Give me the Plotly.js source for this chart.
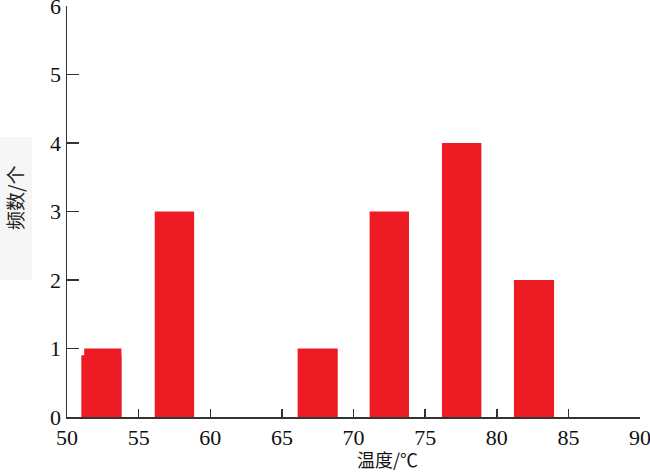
<!DOCTYPE html>
<html><head><meta charset="utf-8">
<script src="https://cdn.plot.ly/plotly-3.0.1.min.js"></script>
<style>html,body{margin:0;padding:0;background:#fff}</style>
</head><body><div id="chart" style="width:650px;height:472px"></div>
<script>
// Data
const binCenters = [52.5, 57.5, 67.5, 72.5, 77.55, 82.6];
const counts = [1, 3, 1, 3, 4, 2];
const binWidths = [2.6, 2.75, 2.8, 2.75, 2.75, 2.8];
const firstBinStepCenter = [52.4];
const firstBinStepValue = [0.9];
const xTickVals = [50, 55, 60, 65, 70, 75, 80, 85, 90];
const yTickVals = [0, 1, 2, 3, 4, 5, 6];
const xTitle = '温度/℃';
const yTitle = '频数/个';

const red = '#ed1c24';
const font = 'Liberation Serif, Times New Roman, Noto Sans CJK SC, serif';

const traces = [
  {type: 'bar', x: firstBinStepCenter, y: firstBinStepValue, width: 2.8,
   marker: {color: red, line: {width: 0}}, hoverinfo: 'skip'},
  {type: 'bar', x: binCenters, y: counts, width: binWidths,
   marker: {color: red, line: {width: 0}}}
];

const layout = {
  width: 650, height: 472,
  margin: {l: 67, r: 10, t: 6, b: 55},
  paper_bgcolor: '#fff', plot_bgcolor: '#fff',
  showlegend: false,
  barmode: 'overlay',
  font: {family: font, size: 21, color: '#111'},
  xaxis: {
    range: [50, 90], tickvals: xTickVals, ticktext: xTickVals.map(String),
    showgrid: false, zeroline: false, showline: true, linecolor: '#333', linewidth: 1.5,
    ticks: 'inside', ticklen: 8, tickwidth: 1.5, tickcolor: '#333',
    ticklabeloverflow: 'allow',
    tickfont: {family: font, size: 22, color: '#111'}
  },
  yaxis: {
    range: [0, 6], tickvals: yTickVals,
    showgrid: false, zeroline: false, showline: true, linecolor: '#333', linewidth: 1.5,
    ticks: 'inside', ticklen: 12, tickwidth: 1.5, tickcolor: '#333',
    ticklabeloverflow: 'allow',
    tickfont: {family: font, size: 22, color: '#111'}
  },
  shapes: [
    {type: 'rect', xref: 'paper', yref: 'paper', x0: -0.117, x1: -0.061, y0: 0.333, y1: 0.681,
     fillcolor: '#f6f6f6', line: {width: 0}, layer: 'below'}
  ],
  annotations: [
    {text: xTitle, xref: 'paper', yref: 'paper', x: 0.56, y: -0.102, yanchor: 'middle', xanchor: 'center',
     showarrow: false, font: {family: 'Noto Sans CJK SC, Liberation Serif, serif', size: 18, color: '#111'}},
    {text: yTitle, xref: 'paper', yref: 'paper', x: -0.0907, y: 0.533, xanchor: 'center', yanchor: 'middle',
     textangle: -90, showarrow: false,
     font: {family: 'Noto Sans CJK SC, serif', size: 19, color: '#222'}}
  ]
};

Plotly.newPlot('chart', traces, layout, {displayModeBar: false, staticPlot: true});
</script></body></html>
